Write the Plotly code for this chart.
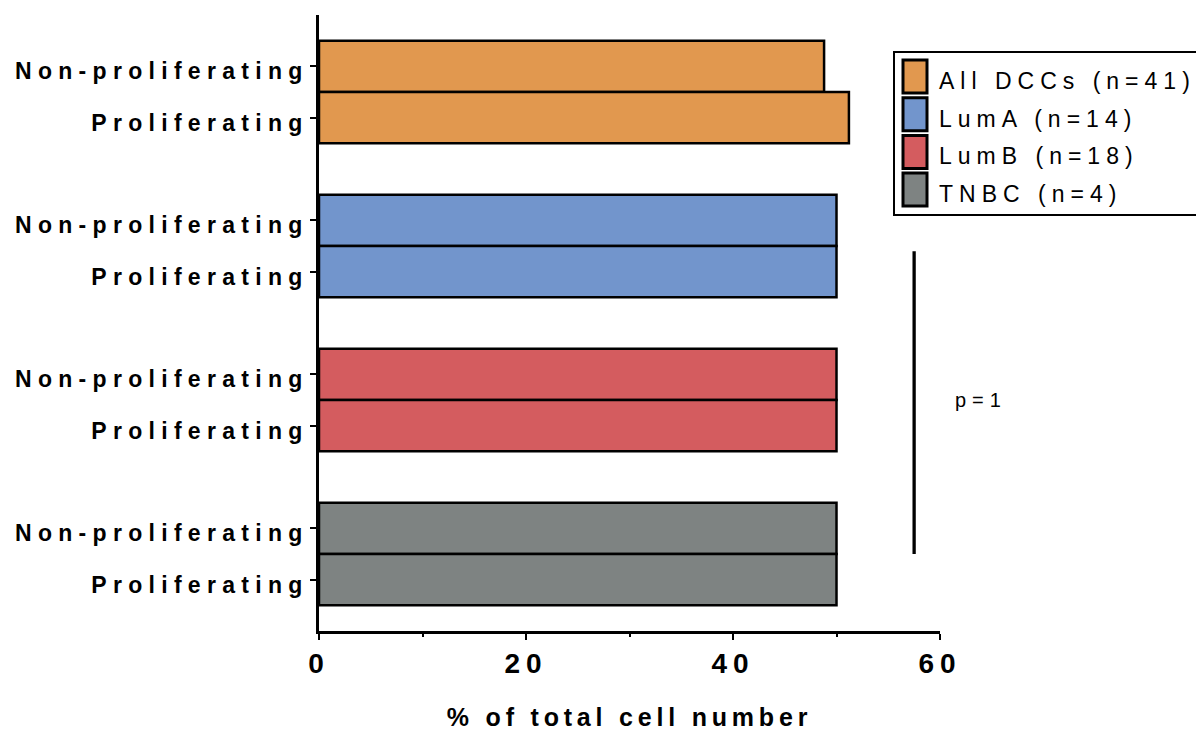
import plotly.graph_objects as go

# Data
groups = ["All DCCs (n=41)", "LumA (n=14)", "LumB (n=18)", "TNBC (n=4)"]
states = ["Non-proliferating", "Proliferating"]
non_proliferating = [48.8, 50.0, 50.0, 50.0]
proliferating = [51.2, 50.0, 50.0, 50.0]
colors = ["#E1984F", "#7295CC", "#D45C5F", "#7E8382"]
x_ticks = [0, 20, 40, 60]
p_label = "p=1"

W, H = 1196, 731
L, R, T, B = 319, 256, 15, 100
PW, PH = W - L - R, H - T - B

def px_x(px):
    return (px - L) / PW

def px_y(py):
    return (H - B - py) / PH

FONT = "Liberation Sans, Arial, sans-serif"

fig = go.Figure()
tickvals, ticktext = [], []
for g, name in enumerate(groups):
    ys = [g * 3, g * 3 + 1]
    fig.add_trace(go.Bar(
        x=[non_proliferating[g], proliferating[g]], y=ys,
        orientation="h", width=1, name=name, showlegend=False,
        marker=dict(color=colors[g], line=dict(color="black", width=2.5)),
    ))
    tickvals += ys
    ticktext += states

# Significance bracket and p-value
fig.add_shape(type="line", xref="x", yref="y", x0=57.5, x1=57.5, y0=3.6, y1=9.5,
              line=dict(color="black", width=3.3))
fig.add_annotation(xref="paper", yref="paper", x=px_x(953), y=px_y(400), text=p_label,
                   showarrow=False, xanchor="left", yanchor="middle", align="left",
                   font=dict(family=FONT, size=20, color="black"))

# Legend box with swatches
fig.add_shape(type="rect", xref="paper", yref="paper",
              x0=px_x(894), x1=px_x(1202), y0=px_y(215), y1=px_y(52),
              line=dict(color="black", width=2), fillcolor="white", layer="below")
for i, name in enumerate(groups):
    top = 60 + 37.7 * i
    fig.add_shape(type="rect", xref="paper", yref="paper",
                  x0=px_x(903), x1=px_x(927), y0=px_y(top + 33), y1=px_y(top),
                  line=dict(color="black", width=3), fillcolor=colors[i])
    fig.add_annotation(xref="paper", yref="paper", x=px_x(937), y=px_y(top + 21),
                       text=name, showarrow=False, xanchor="left", yanchor="middle",
                       align="left", font=dict(family=FONT, size=23, color="black"))

fig.update_layout(
    width=W, height=H, margin=dict(l=L, r=R, t=T, b=B, pad=0, autoexpand=False),
    paper_bgcolor="white", plot_bgcolor="white", barmode="overlay",
    font=dict(family=FONT, color="black"),
    xaxis=dict(
        range=[0, 60], tickvals=x_ticks, ticks="outside", ticklen=6, tickwidth=2,
        tickcolor="black", showline=True, linewidth=2.5, linecolor="black",
        showgrid=False, zeroline=False, automargin=False,
        minor=dict(dtick=10, tick0=0, ticks="outside", ticklen=3, tickwidth=2,
                   tickcolor="black", showgrid=False),
        tickfont=dict(family=FONT, size=28, color="black", weight="bold"),
        title=dict(text="% of total cell number", standoff=34,
                   font=dict(family=FONT, size=25, color="black", weight="bold")),
    ),
    yaxis=dict(
        range=[11, -1], tickvals=tickvals, ticktext=ticktext, ticks="outside",
        ticklen=6, tickwidth=2, tickcolor="black", showline=True, linewidth=2.5,
        linecolor="black", showgrid=False, zeroline=False, automargin=False,
        ticklabelstandoff=-3, ticklabelshift=-5,
        tickfont=dict(family=FONT, size=23, color="black", weight="bold"),
    ),
)

# Wide letter spacing used throughout the figure's text
spacing = ("var s=document.createElement('style');"
           "s.textContent='.ytick text{letter-spacing:6.3px !important;}"
           ".xtick text{letter-spacing:6px !important;}"
           ".g-xtitle text{letter-spacing:4.8px !important;}"
           ".annotation-text{letter-spacing:6px !important;}';"
           "document.head.appendChild(s);")

fig.write_html("out.html", post_script=spacing)
